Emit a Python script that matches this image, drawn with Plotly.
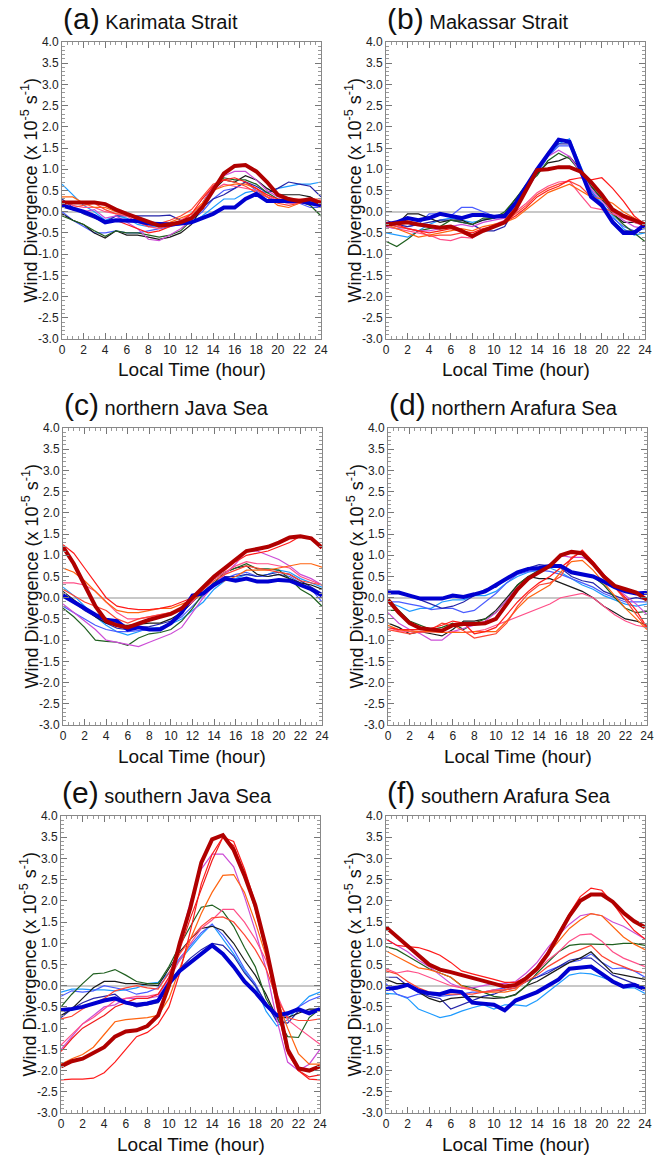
import plotly.graph_objects as go

# The page body adds an 8 px margin; the figure is sized to fill the rest.
OFF = 8
W, H = 662 - OFF, 1156 - OFF
hours = list(range(25))

x_ticks = list(range(0, 25, 2))
y_ticks = [-3.0, -2.5, -2.0, -1.5, -1.0, -0.5, 0.0, 0.5, 1.0, 1.5, 2.0, 2.5, 3.0, 3.5, 4.0]

panel_letters = ["(a)", "(b)", "(c)", "(d)", "(e)", "(f)"]
panel_names = ["Karimata Strait", "Makassar Strait", "northern Java Sea",
               "northern Arafura Sea", "southern Java Sea", "southern Arafura Sea"]

# ---- panel (a) Karimata Strait ----
panel_a = {
    "lightblue": [0.65, 0.4, 0.15, 0.0, -0.2, -0.1, -0.15, -0.3, -0.35, -0.35, -0.3, -0.3, -0.25, -0.1, 0.1, 0.3, 0.3, 0.45, 0.5, 0.45, 0.55, 0.6, 0.65, 0.65, 0.7],
    "royal": [0.0, -0.2, -0.35, -0.5, -0.5, -0.45, -0.5, -0.5, -0.45, -0.4, -0.35, -0.3, -0.2, 0.0, 0.3, 0.5, 0.55, 0.7, 0.5, 0.35, 0.25, 0.2, 0.2, 0.1, 0.1],
    "navy": [0.3, 0.1, -0.05, -0.15, -0.25, -0.1, -0.1, -0.1, -0.1, -0.1, -0.08, -0.2, -0.2, 0.1, 0.3, 0.4, 0.55, 0.7, 0.6, 0.45, 0.55, 0.7, 0.65, 0.6, 0.35],
    "black": [-0.05, -0.2, -0.3, -0.5, -0.62, -0.45, -0.55, -0.55, -0.6, -0.65, -0.6, -0.5, -0.3, 0.1, 0.5, 0.75, 0.7, 0.85, 0.75, 0.55, 0.4, 0.4, 0.4, 0.35, 0.2],
    "green": [-0.1, -0.2, -0.3, -0.45, -0.58, -0.45, -0.5, -0.5, -0.55, -0.6, -0.55, -0.45, -0.2, 0.2, 0.6, 0.8, 0.75, 0.75, 0.65, 0.45, 0.3, 0.25, 0.25, 0.15, -0.1],
    "magenta": [0.2, 0.05, 0.0, 0.05, -0.15, -0.1, -0.25, -0.4, -0.65, -0.68, -0.55, -0.4, -0.2, 0.2, 0.6, 0.85, 0.95, 0.95, 0.75, 0.5, 0.35, 0.3, 0.25, 0.25, 0.15],
    "pink": [0.25, 0.15, 0.1, 0.1, 0.0, -0.05, -0.1, -0.25, -0.35, -0.4, -0.3, -0.2, -0.05, 0.2, 0.5, 0.65, 0.6, 0.55, 0.5, 0.4, 0.25, 0.2, 0.2, 0.2, 0.15],
    "orange": [0.35, 0.35, 0.2, 0.1, 0.1, 0.0, -0.05, -0.15, -0.3, -0.3, -0.25, -0.15, -0.05, 0.2, 0.5, 0.6, 0.65, 0.65, 0.55, 0.35, 0.15, 0.1, 0.2, 0.25, 0.25],
    "tomato": [0.15, 0.1, 0.15, 0.2, 0.05, -0.05, -0.05, -0.2, -0.35, -0.28, -0.2, -0.1, 0.05, 0.35, 0.65, 0.75, 0.7, 0.6, 0.45, 0.35, 0.2, 0.15, 0.2, 0.3, 0.3],
    "red": [0.2, 0.05, 0.0, -0.1, -0.25, -0.2, -0.3, -0.4, -0.5, -0.45, -0.35, -0.25, -0.05, 0.3, 0.6, 0.75, 0.8, 0.7, 0.55, 0.4, 0.3, 0.3, 0.3, 0.3, 0.25],
    "blue_thick": [0.15, 0.08, 0.0, -0.1, -0.25, -0.2, -0.2, -0.22, -0.28, -0.3, -0.3, -0.28, -0.25, -0.15, -0.05, 0.1, 0.1, 0.3, 0.42, 0.25, 0.25, 0.25, 0.25, 0.2, 0.15],
    "red_thick": [0.22, 0.22, 0.2, 0.22, 0.18, 0.05, -0.05, -0.15, -0.25, -0.33, -0.3, -0.25, -0.15, 0.1, 0.5, 0.9, 1.08, 1.1, 0.95, 0.7, 0.4, 0.3, 0.25, 0.3, 0.2],
}

# ---- panel (b) Makassar Strait ----
panel_b = {
    "lightblue": [-0.5, -0.55, -0.6, -0.45, -0.3, -0.2, -0.15, -0.2, -0.25, -0.2, -0.15, -0.1, 0.2, 0.5, 0.9, 1.3, 1.6, 1.72, 1.1, 0.5, 0.2, -0.1, -0.4, -0.55, -0.5],
    "royal": [-0.35, -0.4, -0.35, -0.3, -0.05, -0.05, -0.1, 0.1, 0.1, 0.0, -0.1, -0.05, 0.15, 0.5, 0.9, 1.3, 1.55, 1.55, 1.05, 0.5, 0.15, -0.15, -0.35, -0.45, -0.4],
    "navy": [-0.2, -0.3, -0.35, -0.3, -0.25, -0.2, -0.2, -0.25, -0.3, -0.45, -0.45, -0.35, 0.1, 0.5, 0.95, 1.4, 1.6, 1.6, 1.0, 0.45, 0.1, -0.2, -0.45, -0.45, -0.35],
    "black": [-0.3, -0.3, -0.05, -0.05, -0.15, -0.25, -0.2, -0.2, -0.3, -0.2, -0.15, -0.05, 0.3, 0.6, 0.9, 1.15, 1.2, 1.3, 1.0, 0.6, 0.3, -0.05, -0.25, -0.25, -0.3],
    "green": [-0.7, -0.82, -0.65, -0.45, -0.4, -0.35, -0.2, -0.25, -0.3, -0.15, -0.15, 0.0, 0.3, 0.65, 0.85, 1.2, 1.38, 1.25, 0.95, 0.6, 0.3, -0.05, -0.3, -0.5, -0.7],
    "magenta": [-0.25, -0.35, -0.4, -0.45, -0.45, -0.4, -0.35, -0.3, -0.35, -0.25, -0.2, -0.15, 0.15, 0.5, 0.95, 1.3, 1.45, 1.3, 0.95, 0.55, 0.25, 0.0, -0.2, -0.35, -0.4],
    "pink": [-0.35, -0.4, -0.45, -0.5, -0.55, -0.65, -0.68, -0.6, -0.62, -0.45, -0.3, -0.2, 0.0, 0.2, 0.45, 0.6, 0.7, 0.72, 0.4, 0.1, 0.05, -0.05, -0.15, -0.25, -0.35],
    "orange": [-0.3, -0.4, -0.5, -0.6, -0.55, -0.5, -0.45, -0.4, -0.45, -0.35, -0.3, -0.25, -0.15, 0.05, 0.25, 0.45, 0.55, 0.65, 0.5, 0.35, 0.3, 0.2, 0.0, -0.15, -0.3],
    "tomato": [-0.3, -0.35, -0.4, -0.45, -0.58, -0.55, -0.55, -0.5, -0.6, -0.45, -0.35, -0.25, -0.05, 0.15, 0.4, 0.55, 0.65, 0.72, 0.6, 0.35, 0.1, 0.0, -0.1, -0.2, -0.35],
    "red": [-0.25, -0.3, -0.4, -0.45, -0.5, -0.45, -0.4, -0.45, -0.5, -0.4, -0.35, -0.25, -0.1, 0.1, 0.35, 0.5, 0.6, 0.75, 0.8, 0.75, 0.8, 0.55, 0.25, -0.1, -0.3],
    "blue_thick": [-0.3, -0.25, -0.15, -0.2, -0.15, -0.05, -0.1, -0.15, -0.08, -0.08, -0.12, -0.1, 0.2, 0.6, 1.0, 1.35, 1.7, 1.65, 1.0, 0.35, 0.15, -0.25, -0.5, -0.5, -0.3],
    "red_thick": [-0.3, -0.28, -0.25, -0.3, -0.35, -0.38, -0.35, -0.45, -0.58, -0.45, -0.35, -0.25, 0.05, 0.5, 0.98, 1.0, 1.05, 1.05, 0.95, 0.7, 0.4, 0.05, -0.1, -0.2, -0.3],
}

# ---- panel (c) northern Java Sea ----
panel_c = {
    "lightblue": [0.25, 0.05, -0.2, -0.45, -0.65, -0.8, -0.88, -0.8, -0.72, -0.7, -0.62, -0.5, -0.3, -0.1, 0.2, 0.4, 0.45, 0.55, 0.5, 0.55, 0.65, 0.6, 0.45, 0.35, 0.25],
    "royal": [-0.2, -0.35, -0.5, -0.65, -0.75, -0.8, -0.8, -0.78, -0.75, -0.7, -0.6, -0.45, -0.2, 0.05, 0.3, 0.45, 0.55, 0.6, 0.5, 0.5, 0.55, 0.5, 0.35, 0.2, -0.1],
    "navy": [0.1, -0.1, -0.3, -0.45, -0.6, -0.72, -0.75, -0.7, -0.68, -0.62, -0.55, -0.35, -0.1, 0.15, 0.35, 0.5, 0.5, 0.55, 0.5, 0.55, 0.6, 0.55, 0.4, 0.25, 0.1],
    "black": [0.15, -0.05, -0.25, -0.45, -0.6, -0.65, -0.65, -0.62, -0.6, -0.6, -0.5, -0.35, -0.1, 0.2, 0.45, 0.6, 0.7, 0.75, 0.55, 0.5, 0.55, 0.45, 0.35, 0.3, 0.2],
    "green": [-0.25, -0.45, -0.7, -1.0, -1.03, -1.05, -1.12, -0.95, -0.85, -0.82, -0.75, -0.55, -0.25, 0.1, 0.35, 0.6, 0.7, 0.8, 0.68, 0.68, 0.65, 0.45, 0.2, 0.05, -0.2],
    "magenta": [-0.15, -0.35, -0.55, -0.75, -1.0, -1.05, -1.1, -1.15, -1.05, -0.95, -0.85, -0.7, -0.35, 0.0, 0.3, 0.55, 0.8, 1.1, 1.1, 1.0, 0.9, 0.75, 0.55, 0.45, 0.3],
    "pink": [0.35, 0.35, 0.3, 0.15, -0.1, -0.35, -0.5, -0.5, -0.45, -0.4, -0.35, -0.3, -0.1, 0.2, 0.45, 0.6, 0.75, 0.85, 0.8, 0.8, 0.75, 0.7, 0.5, 0.4, 0.3],
    "orange": [0.7, 0.6, 0.4, 0.15, -0.1, -0.3, -0.35, -0.35, -0.3, -0.25, -0.25, -0.15, -0.05, 0.1, 0.3, 0.4, 0.5, 0.65, 0.65, 0.65, 0.7, 0.75, 0.8, 0.8, 0.72],
    "tomato": [0.2, 0.05, -0.1, -0.2, -0.3, -0.5, -0.6, -0.5, -0.45, -0.4, -0.35, -0.3, -0.05, 0.2, 0.4, 0.55, 0.65, 0.75, 0.7, 0.65, 0.6, 0.55, 0.4, 0.35, 0.3],
    "red": [1.25, 1.05, 0.7, 0.35, 0.0, -0.2, -0.25, -0.28, -0.28, -0.25, -0.2, -0.1, 0.0, 0.25, 0.5, 0.65, 0.85, 1.0, 1.05, 1.1, 1.2, 1.3, 1.45, 1.4, 1.2],
    "blue_thick": [0.05, -0.1, -0.25, -0.4, -0.52, -0.55, -0.75, -0.7, -0.75, -0.75, -0.6, -0.35, 0.05, 0.1, 0.3, 0.45, 0.4, 0.45, 0.38, 0.38, 0.42, 0.4, 0.3, 0.2, 0.05],
    "red_thick": [1.2, 0.8, 0.3, -0.2, -0.55, -0.65, -0.7, -0.6, -0.52, -0.45, -0.38, -0.25, 0.0, 0.25, 0.5, 0.7, 0.9, 1.1, 1.15, 1.2, 1.3, 1.42, 1.45, 1.4, 1.18],
}

# ---- panel (d) northern Arafura Sea ----
panel_d = {
    "lightblue": [-0.1, -0.2, -0.32, -0.25, -0.25, -0.1, -0.05, -0.05, 0.05, 0.05, 0.15, 0.35, 0.5, 0.6, 0.65, 0.7, 0.6, 0.45, 0.3, 0.2, 0.05, -0.05, -0.15, -0.2, -0.15],
    "royal": [-0.1, -0.1, -0.15, -0.2, -0.28, -0.25, -0.25, -0.35, -0.3, -0.1, 0.1, 0.35, 0.55, 0.62, 0.65, 0.62, 0.55, 0.45, 0.35, 0.25, 0.1, 0.0, -0.1, -0.1, -0.1],
    "navy": [0.15, 0.1, 0.05, -0.05, -0.15, -0.25, -0.2, -0.1, 0.05, 0.2, 0.25, 0.45, 0.6, 0.7, 0.78, 0.75, 0.7, 0.5, 0.4, 0.35, 0.15, 0.05, -0.05, 0.0, -0.05],
    "black": [-0.6, -0.7, -0.85, -0.8, -0.85, -0.9, -0.75, -0.55, -0.55, -0.5, -0.3, 0.0, 0.3, 0.5, 0.45, 0.45, 0.35, 0.25, 0.15, 0.0, -0.2, -0.35, -0.5, -0.55, -0.65],
    "green": [-0.3, -0.3, -0.55, -0.65, -0.75, -0.7, -0.6, -0.75, -0.6, -0.5, -0.35, -0.05, 0.3, 0.5, 0.65, 0.72, 0.72, 0.6, 0.55, 0.5, 0.3, 0.0, -0.25, -0.35, -0.32],
    "magenta": [-0.35, -0.6, -0.75, -0.85, -1.0, -1.0, -0.8, -0.72, -0.65, -0.55, -0.35, -0.05, 0.25, 0.45, 0.6, 0.8, 1.0, 0.95, 0.95, 0.85, 0.55, 0.25, 0.05, -0.15, -0.4],
    "pink": [-0.7, -0.78, -0.8, -0.82, -0.8, -0.82, -0.8, -0.82, -0.8, -0.75, -0.65, -0.55, -0.45, -0.35, -0.25, -0.15, 0.0, 0.05, 0.1, 0.0, -0.2, -0.4, -0.55, -0.65, -0.7],
    "orange": [-0.65, -0.75, -0.78, -0.8, -0.8, -0.82, -0.82, -0.82, -0.8, -0.8, -0.8, -0.55, -0.25, 0.0, 0.15, 0.3, 0.6, 0.85, 0.88, 0.65, 0.35, 0.05, -0.25, -0.5, -0.75],
    "tomato": [-0.75, -0.8, -0.85, -0.8, -0.75, -0.6, -0.65, -0.78, -0.95, -0.9, -0.85, -0.6, -0.2, 0.1, 0.3, 0.35, 0.5, 0.95, 1.08, 0.85, 0.55, 0.25, -0.05, -0.4, -0.72],
    "red": [-0.7, -0.75, -0.75, -0.75, -0.72, -0.65, -0.55, -0.6, -0.85, -0.8, -0.7, -0.4, -0.1, 0.15, 0.35, 0.5, 0.7, 0.9, 1.12, 0.85, 0.5, 0.25, 0.0, -0.3, -0.7],
    "blue_thick": [0.12, 0.12, 0.05, -0.02, -0.02, -0.02, 0.05, 0.02, 0.08, 0.15, 0.3, 0.45, 0.6, 0.68, 0.7, 0.75, 0.75, 0.6, 0.55, 0.5, 0.38, 0.25, 0.15, 0.1, 0.12],
    "red_thick": [-0.05, -0.35, -0.6, -0.72, -0.75, -0.78, -0.65, -0.62, -0.62, -0.6, -0.5, -0.15, 0.2, 0.45, 0.6, 0.75, 1.0, 1.08, 1.05, 0.8, 0.5, 0.28, 0.2, 0.12, -0.05],
}

# ---- panel (e) southern Java Sea ----
panel_e = {
    "lightblue": [-0.15, -0.08, -0.08, -0.1, -0.1, -0.12, -0.1, -0.05, 0.05, 0.08, 0.3, 0.6, 0.9, 1.2, 1.45, 1.1, 0.75, 0.35, 0.0, -0.6, -0.95, -0.8, -0.5, -0.25, -0.15],
    "royal": [-0.25, -0.12, -0.15, -0.12, 0.0, -0.05, -0.1, -0.2, -0.15, -0.05, 0.3, 0.65, 0.95, 1.25, 1.45, 1.2, 0.85, 0.4, 0.05, -0.45, -0.8, -0.7, -0.5, -0.35, -0.25],
    "navy": [-0.75, -0.55, -0.4, -0.3, -0.25, -0.2, -0.4, -0.5, -0.45, -0.4, 0.05, 0.4, 0.65, 0.85, 1.0, 0.95, 0.7, 0.3, 0.0, -0.4, -0.85, -0.88, -0.6, -0.6, -0.55],
    "black": [-0.7, -0.55, -0.3, -0.05, 0.1, 0.1, 0.05, 0.05, 0.02, 0.0, 0.4, 0.8, 1.1, 1.35, 1.4, 1.3, 1.0, 0.6, 0.25, -0.2, -0.75, -0.75, -0.65, -0.55, -0.55],
    "green": [-0.5, -0.2, 0.05, 0.28, 0.3, 0.38, 0.25, 0.1, 0.05, 0.05, 0.45, 0.95, 1.4, 1.85, 1.9, 1.75, 1.4, 0.9, 0.45, -0.3, -0.75, -1.2, -1.22, -0.75, -0.55],
    "magenta": [-1.5, -1.2, -0.9, -0.7, -0.5, -0.45, -0.3, -0.3, -0.3, -0.25, 0.2, 1.0, 2.0, 2.75, 3.1, 3.1, 2.8, 2.1, 1.3, 0.4, -0.8, -1.8, -2.0, -1.85, -1.5],
    "pink": [-1.4, -1.15, -0.9, -0.75, -0.55, -0.35, -0.3, -0.25, -0.25, -0.2, 0.15, 0.6, 1.0, 1.35, 1.55, 1.8, 1.8, 1.5, 1.1, 0.6, -0.2, -0.8, -1.0, -1.2, -1.38],
    "orange": [-1.85, -1.72, -1.62, -1.45, -1.15, -0.85, -0.8, -0.78, -0.75, -0.7, -0.3, 0.4, 1.1, 1.7, 2.2, 2.6, 2.62, 2.2, 1.5, 0.7, -0.3, -1.0, -1.6, -1.85, -1.85],
    "tomato": [-0.78, -0.72, -0.55, -0.42, -0.3, -0.12, -0.05, 0.0, -0.05, -0.08, 0.3, 0.75, 1.1, 1.4, 1.6, 1.62, 1.5, 1.2, 0.85, 0.4, -0.3, -0.75, -0.82, -0.82, -0.78],
    "red": [-2.22, -2.2, -2.2, -2.18, -2.05, -1.8, -1.5, -1.2, -1.1, -0.9, -0.5, 0.3, 1.3, 2.4, 3.1, 3.5, 3.4, 2.75, 1.95, 0.9, -0.3, -1.5, -2.0, -2.2, -2.22],
    "crimson": [-1.55, -1.25, -1.0, -0.85, -0.7, -0.5, -0.4, -0.3, -0.3, -0.2, 0.2, 0.85, 1.6, 2.3, 2.95, 3.5, 3.3, 2.6, 1.8, 0.8, -0.5, -1.6, -2.0, -2.15, -2.1],
    "blue_thick": [-0.57, -0.55, -0.5, -0.42, -0.35, -0.3, -0.4, -0.45, -0.42, -0.35, 0.05, 0.35, 0.55, 0.75, 0.95, 0.75, 0.45, 0.1, -0.15, -0.45, -0.7, -0.65, -0.55, -0.65, -0.55],
    "red_thick": [-1.9, -1.78, -1.72, -1.58, -1.45, -1.2, -1.08, -1.05, -0.95, -0.7, 0.0, 1.0, 1.85, 2.9, 3.45, 3.55, 3.2, 2.6, 1.9, 0.9, -0.3, -1.5, -1.95, -2.0, -1.9],
}

# ---- panel (f) southern Arafura Sea ----
panel_f = {
    "lightblue": [-0.18, -0.2, -0.3, -0.55, -0.65, -0.75, -0.7, -0.6, -0.52, -0.45, -0.55, -0.45, -0.45, -0.48, -0.35, -0.15, 0.05, 0.25, 0.3, 0.28, 0.2, 0.1, -0.05, -0.05, -0.18],
    "royal": [0.05, -0.2, -0.28, -0.2, -0.2, -0.25, -0.22, -0.2, -0.15, -0.15, -0.1, -0.05, 0.0, 0.1, 0.2, 0.35, 0.45, 0.55, 0.6, 0.75, 0.55, 0.4, 0.42, 0.35, 0.2],
    "navy": [0.2, 0.2, 0.0, -0.15, -0.25, -0.3, -0.55, -0.45, -0.35, -0.25, -0.2, -0.1, -0.05, 0.1, 0.2, 0.3, 0.45, 0.6, 0.65, 0.65, 0.45, 0.25, 0.15, 0.05, -0.05],
    "black": [0.15, 0.05, 0.05, -0.15, -0.3, -0.38, -0.3, -0.28, -0.25, -0.28, -0.3, -0.28, -0.2, 0.0, 0.1, 0.25, 0.4, 0.55, 0.65, 0.8, 0.55, 0.3, 0.25, 0.2, 0.15],
    "green": [0.92, 0.85, 0.7, 0.55, 0.4, 0.3, 0.2, 0.0, -0.05, -0.15, -0.25, -0.28, -0.22, 0.0, 0.3, 0.55, 0.8, 0.95, 0.98, 0.98, 0.98, 0.97, 1.0, 1.0, 0.95],
    "magenta": [1.1, 0.95, 0.8, 0.6, 0.45, 0.25, 0.05, -0.05, -0.05, 0.0, 0.05, 0.05, 0.1, 0.3, 0.55, 0.9, 1.2, 1.45, 1.65, 1.7, 1.65, 1.5, 1.4, 1.25, 1.1],
    "pink": [0.4, 0.3, 0.35, 0.3, 0.2, 0.1, 0.0, -0.05, -0.1, -0.15, -0.1, -0.1, 0.0, 0.15, 0.35, 0.6, 0.8, 1.05, 1.2, 1.22, 1.05, 0.8, 0.65, 0.55, 0.45],
    "orange": [0.82, 0.68, 0.55, 0.42, 0.38, 0.3, 0.2, 0.0, -0.1, -0.15, -0.15, -0.15, -0.1, 0.15, 0.4, 0.75, 1.05, 1.35, 1.55, 1.7, 1.65, 1.4, 1.15, 0.98, 0.85],
    "tomato": [0.35, 0.28, 0.1, -0.05, -0.15, -0.2, -0.2, -0.2, -0.2, -0.15, -0.12, -0.1, -0.05, 0.1, 0.25, 0.45, 0.6, 0.75, 0.85, 0.95, 0.7, 0.55, 0.45, 0.35, 0.3],
    "red": [1.1, 0.95, 0.92, 0.9, 0.82, 0.72, 0.55, 0.35, 0.28, 0.22, 0.15, 0.08, 0.08, 0.2, 0.45, 0.8, 1.25, 1.7, 2.1, 2.3, 2.25, 1.95, 1.6, 1.3, 1.1],
    "blue_thick": [-0.08, -0.05, 0.02, -0.12, -0.18, -0.2, -0.12, -0.15, -0.4, -0.42, -0.45, -0.58, -0.35, -0.25, -0.15, 0.0, 0.15, 0.4, 0.42, 0.45, 0.28, 0.1, -0.02, 0.02, -0.08],
    "red_thick": [1.38, 1.15, 0.95, 0.72, 0.5, 0.38, 0.32, 0.25, 0.2, 0.12, 0.05, -0.02, 0.02, 0.18, 0.4, 0.75, 1.2, 1.65, 2.0, 2.15, 2.15, 1.98, 1.72, 1.52, 1.38],
}

panels = [panel_a, panel_b, panel_c, panel_d, panel_e, panel_f]

colors = {
    "lightblue": "#1e9bff", "royal": "#4a5cff", "navy": "#2424a8", "black": "#1a1a1a",
    "green": "#1f5f1f", "magenta": "#cc4dd6", "pink": "#ff4f88", "orange": "#ff6410",
    "tomato": "#ff4433", "red": "#ff1a1a", "crimson": "#f01c1c",
    "blue_thick": "#0000d0", "red_thick": "#b00000",
}
widths = {k: 1.2 for k in colors}
widths["blue_thick"] = 4.0
widths["red_thick"] = 4.0
draw_order = ["lightblue", "royal", "navy", "black", "green", "magenta", "pink",
              "orange", "tomato", "red", "crimson", "blue_thick", "red_thick"]

# plot-area boxes in page pixels (left, right, top, bottom)
boxes = [(62, 321, 42, 339), (386, 645, 42, 339),
         (63, 322, 428, 725), (388, 647, 428, 725),
         (61, 320, 816, 1113), (386, 645, 816, 1113)]


def px(xp):
    return (xp - OFF) / W


def py(yp):
    return 1 - (yp - OFF) / H


fig = go.Figure()
font_main = "Liberation Sans, Arial, sans-serif"

for i, (panel, box) in enumerate(zip(panels, boxes)):
    n = "" if i == 0 else str(i + 1)
    l, r, t, b = box
    for key in draw_order:
        if key not in panel:
            continue
        fig.add_trace(go.Scatter(
            x=hours, y=panel[key], mode="lines",
            line=dict(color=colors[key], width=widths[key]),
            xaxis="x" + n, yaxis="y" + n, showlegend=False, hoverinfo="skip"))
    common = dict(showgrid=False, ticks="inside", ticklen=6, tickwidth=1,
                  tickcolor="#777", linecolor="#888", linewidth=1, showline=True,
                  mirror="allticks", automargin=False,
                  tickfont=dict(family=font_main, size=12, color="#222"))
    fig.layout["xaxis" + n] = dict(
        domain=[px(l), px(r)], anchor="y" + n, range=[0, 24],
        tickvals=x_ticks, ticktext=[str(v) for v in x_ticks], zeroline=False,
        minor=dict(dtick=0.5, ticklen=3, tickcolor="#999", ticks="inside"),
        **common)
    fig.layout["yaxis" + n] = dict(
        domain=[py(b), py(t)], anchor="x" + n, range=[-3.0, 4.0],
        tickvals=y_ticks, ticktext=["%.1f" % v for v in y_ticks],
        zeroline=True, zerolinecolor="#c8c8c8", zerolinewidth=1.5,
        minor=dict(dtick=0.1, ticklen=3, tickcolor="#999", ticks="inside"),
        **common)
    # x-axis title
    fig.add_annotation(
        x=px((l + r) / 2), y=py(b + 31), xref="paper", yref="paper",
        text="Local Time (hour)", showarrow=False,
        font=dict(family=font_main, size=19, color="#111"),
        xanchor="center", yanchor="middle")
    # y-axis title
    fig.add_annotation(
        x=px(l - 32), y=py((t + b) / 2), xref="paper", yref="paper",
        text="Wind Divergence (x 10<sup>-5</sup> s<sup>-1</sup>)", textangle=-90,
        showarrow=False, font=dict(family=font_main, size=18, color="#111"),
        xanchor="center", yanchor="middle")
    # panel title
    fig.add_annotation(
        x=px(l - 1), y=py(t - 5), xref="paper", yref="paper",
        text="<span style='font-size:30px'>" + panel_letters[i] + "</span> " + panel_names[i],
        showarrow=False, font=dict(family=font_main, size=20, color="#111"),
        xanchor="left", yanchor="bottom")

fig.update_layout(width=W, height=H, margin=dict(l=0, r=0, t=0, b=0),
                  plot_bgcolor="white", paper_bgcolor="white")
fig.write_html("out.html")
